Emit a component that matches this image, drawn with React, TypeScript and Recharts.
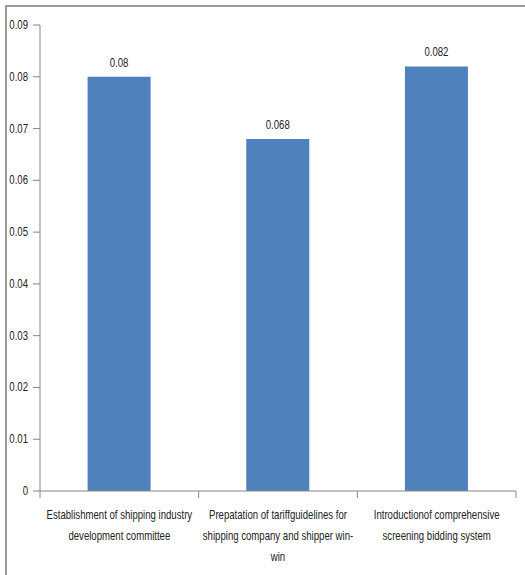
import React from "react"
import { Bar, BarChart, LabelList, XAxis, YAxis } from "recharts"

const measures = [
  "Establishment of shipping industry development committee",
  "Prepatation of tariffguidelines for shipping company and shipper win-win",
  "Introductionof comprehensive screening bidding system",
]

// label lines as wrapped in the picture
const measureLines = [
  ["Establishment of shipping industry", "development committee"],
  ["Prepatation of tariffguidelines for", "shipping company and shipper win-", "win"],
  ["Introductionof comprehensive", "screening bidding system"],
]

const weights = [0.08, 0.068, 0.082]

const yTicks = [0, 0.01, 0.02, 0.03, 0.04, 0.05, 0.06, 0.07, 0.08, 0.09]

const data = measures.map((m, i) => ({ measure: m, weight: weights[i] }))

const font = "'Liberation Sans', Arial, sans-serif"
const axisColor = "#868686"
const squeeze = 0.8 // the picture uses a narrow Calibri-like face

function MeasureTick({ x, y, payload, index }: any) {
  const half = payload?.offset ?? 0
  const lines = measureLines[index] ?? [payload.value]
  return (
    <g>
      <line x1={x - half} y1={y - 8} x2={x - half} y2={y - 1} stroke={axisColor} />
      {index === measures.length - 1 && (
        <line x1={x + half} y1={y - 8} x2={x + half} y2={y - 1} stroke={axisColor} />
      )}
      <g transform={`translate(${x},${y}) scale(${squeeze},1)`}>
        <text x={0} y={0} textAnchor="middle" fontFamily={font} fontSize={12} fill="#222">
          {lines.map((l: string, i: number) => (
            <tspan key={i} x={0} dy={i === 0 ? 20 : 21}>
              {l}
            </tspan>
          ))}
        </text>
      </g>
    </g>
  )
}

function WeightTick({ x, y, payload }: any) {
  const v = payload.value as number
  return (
    <g transform={`translate(${x},${y}) scale(${squeeze},1)`}>
      <text x={0} y={0} dy={4} textAnchor="end" fontFamily={font} fontSize={12} fill="#222">
        {v === 0 ? "0" : v.toFixed(2)}
      </text>
    </g>
  )
}

function ValueLabel({ x, y, width, value }: any) {
  const cx = x + width / 2
  return (
    <g transform={`translate(${cx},${y - 10}) scale(${squeeze},1)`}>
      <text x={0} y={0} textAnchor="middle" fontFamily={font} fontSize={12} fill="#222">
        {value}
      </text>
    </g>
  )
}

export default function App() {
  return (
    <div style={{ position: "absolute", left: 0, top: 0, width: 525, height: 575, overflow: "hidden", background: "#fff" }}>
      <div
        style={{
          position: "absolute",
          left: 5,
          top: 5,
          width: 540,
          height: 600,
          borderLeft: "2px solid #9a9a9a",
          borderTop: "2px solid #9a9a9a",
        }}
      />
      <div style={{ position: "absolute", left: 0, top: 0 }}>
        <BarChart width={525} height={575} data={data} margin={{ top: 25, right: 9, bottom: 0, left: 0 }} barCategoryGap="30%">
          <XAxis
            dataKey="measure"
            height={84}
            interval={0}
            tickLine={false}
            axisLine={{ stroke: axisColor }}
            tick={<MeasureTick />}
          />
          <YAxis
            width={40}
            domain={[0, 0.09]}
            ticks={yTicks}
            interval={0}
            tickSize={7}
            tickMargin={5}
            axisLine={{ stroke: axisColor }}
            tickLine={{ stroke: axisColor }}
            tick={<WeightTick />}
          />
          <Bar dataKey="weight" fill="#4f81bd" isAnimationActive={false}>
            <LabelList dataKey="weight" content={<ValueLabel />} />
          </Bar>
        </BarChart>
      </div>
    </div>
  )
}
